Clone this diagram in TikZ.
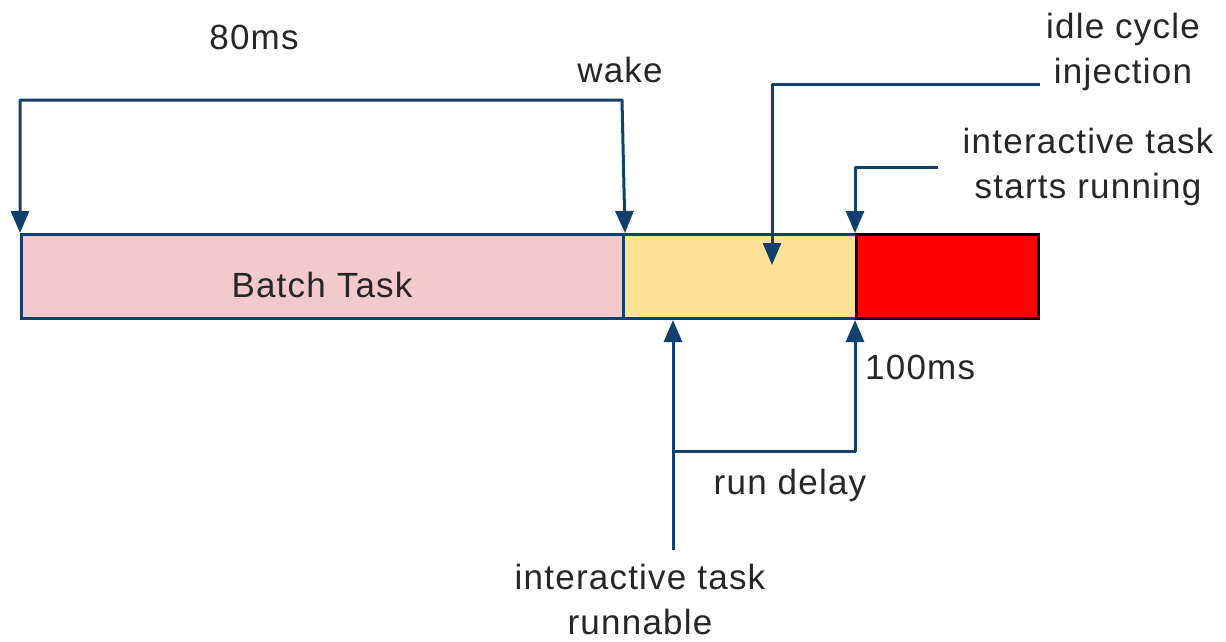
\documentclass[tikz,border=0pt]{standalone}
\usepackage{fontspec}
\setmainfont{Liberation Sans}[LetterSpace=3.5]
\usetikzlibrary{arrows.meta}
\definecolor{lineblue}{HTML}{12406E}
\definecolor{batchpink}{HTML}{F2CACB}
\definecolor{idleyellow}{HTML}{FDE297}
\definecolor{runred}{HTML}{FF0000}
\begin{document}
\begin{tikzpicture}[x=1pt,y=-1pt,
  lbl/.style={font=\fontsize{35}{45}\selectfont, text=black!85, align=center, inner sep=0pt},
  bar/.style={draw=lineblue, line width=3pt, anchor=north west, minimum height=84pt, inner sep=0pt},
  arr/.style={draw=lineblue, line width=3pt, line join=round, -{Triangle[length=22pt,width=18pt]}},
  dbl/.style={draw=lineblue, line width=3pt, line join=round, {Triangle[length=22pt,width=18pt]}-{Triangle[length=22pt,width=18pt]}}
]
\useasboundingbox (0,0) rectangle (1226,641);
% bars
\node[bar, fill=batchpink, minimum width=602pt] (batch) at (20,233) {};
\node[lbl] (batchlbl) at (322,285) {Batch Task};
\node[bar, fill=idleyellow, minimum width=233pt] (idle) at (622,233) {};
\node[bar, draw=black, fill=runred, minimum width=182pt] (run) at (855,233) {};
% labels
\node[lbl] (l80) at (254,37) {80ms};
\node[lbl] (lwake) at (620,70) {wake};
\node[lbl] (lidle) at (1123,52) {idle cycle\\injection};
\node[lbl] (lstart) at (1088,167) {interactive task\\starts running};
\node[lbl, anchor=west] (l100) at (865,367) {100ms};
\node[lbl] (ldelay) at (790,485) {run delay};
\node[lbl] (lrunnable) at (640,599) {interactive task\\runnable};
% coordinates
\coordinate (b1) at (20,100);
\coordinate (b2) at (622,100);
\coordinate (i1) at (1040,84);
\coordinate (i2) at (772,265);
\coordinate (s1) at (938,167);
\coordinate (r0) at (673,550);
\coordinate (r1) at (673,451);
% connectors
\draw[dbl] (batch.north west) -- (b1) -- (b2) -- (batch.north east);
\draw[arr] (i1) -| (i2);
\draw[arr] (s1) -| (run.north west);
\draw[arr] (r0) -- (r0 |- idle.south);
\draw[arr] (r1) -| (run.south west);
\end{tikzpicture}
\end{document}
